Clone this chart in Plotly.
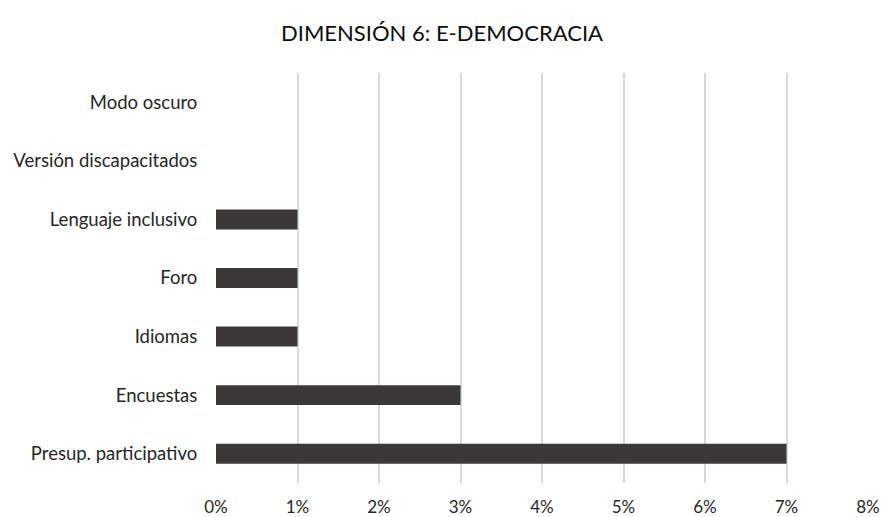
import plotly.graph_objects as go

# Share of municipal websites offering each e-democracy feature
categories = [
    "Presup. participativo",
    "Encuestas",
    "Idiomas",
    "Foro",
    "Lenguaje inclusivo",
    "Versión discapacitados",
    "Modo oscuro",
]
shares = [0.07, 0.03, 0.01, 0.01, 0.01, 0.0, 0.0]
x_ticks = [0, 0.01, 0.02, 0.03, 0.04, 0.05, 0.06, 0.07, 0.08]

fig = go.Figure(
    go.Bar(
        x=shares,
        y=categories,
        orientation="h",
        marker=dict(color="#3b3938", line=dict(width=0)),
        hoverinfo="x+y",
    )
)

fig.update_layout(
    width=884,
    height=517,
    margin=dict(l=216, r=16, t=73, b=34, autoexpand=False),
    paper_bgcolor="white",
    plot_bgcolor="white",
    bargap=0.66,
    showlegend=False,
    font=dict(family="Lato", color="#262626"),
    title=dict(
        text="DIMENSIÓN 6: E-DEMOCRACIA",
        x=0.5,
        xanchor="center",
        y=1 - 33 / 517,
        yanchor="middle",
        font=dict(family="Lato", size=22, color="#0d0d0d"),
    ),
    xaxis=dict(
        range=[0, 0.08],
        tickvals=x_ticks,
        tickformat=".0%",
        showgrid=True,
        gridcolor="#d9d9d9",
        gridwidth=2,
        zeroline=False,
        showline=False,
        ticks="outside",
        ticklen=9,
        tickcolor="rgba(0,0,0,0)",
        tickfont=dict(size=17, color="#262626"),
        automargin=False,
        fixedrange=True,
    ),
    yaxis=dict(
        categoryorder="array",
        categoryarray=categories,
        showgrid=False,
        zeroline=False,
        showline=False,
        ticks="outside",
        ticklen=14,
        tickcolor="rgba(0,0,0,0)",
        tickfont=dict(size=18.5, color="#262626"),
        automargin=False,
        fixedrange=True,
    ),
)

fig.write_html("out.html")
